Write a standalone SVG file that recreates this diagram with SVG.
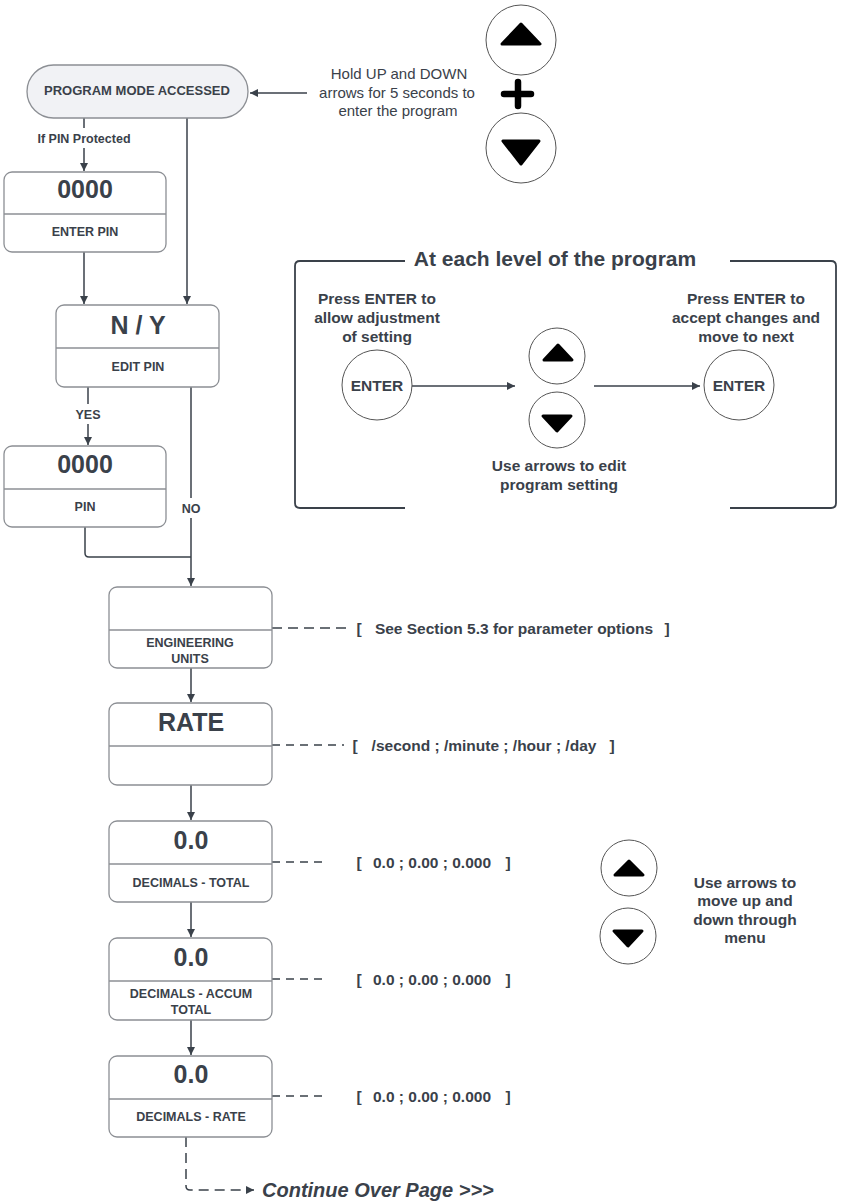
<svg xmlns="http://www.w3.org/2000/svg" width="841" height="1203" viewBox="0 0 841 1203">
<defs>
<style>
text{font-family:"Liberation Sans",Arial,sans-serif;fill:#3a414a;text-anchor:middle;}
.b{font-weight:bold;}
.big{font-weight:bold;font-size:25px;}
.lbl{font-weight:bold;font-size:12.5px;}
.node{fill:#fff;stroke:#8c8f94;stroke-width:1.3;}
.div{stroke:#8c8f94;stroke-width:1.3;}
.con{fill:none;stroke:#3a414a;stroke-width:1.5;}
.dash{fill:none;stroke:#3a414a;stroke-width:1.5;stroke-dasharray:10 6;}
.btn{fill:#fff;stroke:#555;stroke-width:1;}
.tri{fill:#000;stroke:#000;stroke-width:3;stroke-linejoin:round;}
.note{font-weight:bold;font-size:15.5px;}
</style>
<marker id="ah" markerUnits="userSpaceOnUse" markerWidth="9" markerHeight="9" refX="8" refY="4" orient="auto">
<path d="M0,0 L8,4 L0,8 z" fill="#3a414a"/>
</marker>
</defs>
<rect width="841" height="1203" fill="#fff"/>

<g id="connectors">
<path class="con" d="M307,93 H250" marker-end="url(#ah)"/>
<path class="con" d="M84,118 V128"/>
<path class="con" d="M84,148 V171" marker-end="url(#ah)"/>
<path class="con" d="M187,118 V304" marker-end="url(#ah)"/>
<path class="con" d="M84,252 V304" marker-end="url(#ah)"/>
<path class="con" d="M88,387 V404"/>
<path class="con" d="M88,424 V445" marker-end="url(#ah)"/>
<path class="con" d="M191,387 V498"/>
<path class="con" d="M191,518 V586" marker-end="url(#ah)"/>
<path class="con" d="M85,527 V553 Q85,557 89,557 H191"/>
<path class="con" d="M191,668 V702" marker-end="url(#ah)"/>
<path class="con" d="M191,785 V820" marker-end="url(#ah)"/>
<path class="con" d="M191,902 V937" marker-end="url(#ah)"/>
<path class="con" d="M191,1020 V1055" marker-end="url(#ah)"/>
<path class="dash" d="M186,1137 V1186 Q186,1190 190,1190 H254" marker-end="url(#ah)"/>
<path class="dash" d="M272,628 H347"/>
<path class="dash" style="stroke-dasharray:8 6" d="M272,745 H344"/>
<path class="dash" style="stroke-dasharray:8 6" d="M272,862 H324"/>
<path class="dash" style="stroke-dasharray:8 6" d="M272,979 H324"/>
<path class="dash" style="stroke-dasharray:8 6" d="M272,1096 H324"/>
<path class="con" d="M412,386 H515" stroke-width="1.2" marker-end="url(#ah)"/>
<path class="con" d="M594,386 H700" stroke-width="1.2" marker-end="url(#ah)"/>
</g>

<g id="lbl-pin-protected"><text class="b" x="84" y="143" font-size="12.5">If PIN Protected</text></g>
<g id="lbl-yes"><text class="lbl" x="88" y="419">YES</text></g>
<g id="lbl-no"><text class="lbl" x="191" y="513">NO</text></g>

<g id="program-mode">
<rect x="27" y="65" width="221" height="53" rx="26.5" fill="#f1f2f5" stroke="#8c8f94" stroke-width="1.3"/>
<text class="b" x="137" y="95" font-size="13">PROGRAM MODE ACCESSED</text>
</g>

<g id="hold-text">
<text x="399" y="79" font-size="15">Hold UP and DOWN</text>
<text x="397" y="98" font-size="15">arrows for 5 seconds to</text>
<text x="398" y="116" font-size="15">enter the program</text>
</g>

<g id="top-up">
<circle class="btn" cx="521" cy="40" r="35"/>
<path class="tri" d="M521,24 L540,44 L502,44 Z"/>
</g>
<g id="plus">
<path d="M504,94 H531 M518,82 V106" stroke="#000" stroke-width="6.5" stroke-linecap="round"/>
</g>
<g id="top-down">
<circle class="btn" cx="521" cy="148" r="35"/>
<path class="tri" d="M503,141 L539,141 L521,164 Z"/>
</g>

<g id="enter-pin">
<rect class="node" x="4" y="172" width="162" height="80" rx="8"/>
<line class="div" x1="4" y1="214" x2="166" y2="214"/>
<text class="big" x="85" y="198">0000</text>
<text class="lbl" x="85" y="236">ENTER PIN</text>
</g>

<g id="edit-pin">
<rect class="node" x="56" y="305" width="163" height="82" rx="8"/>
<line class="div" x1="56" y1="348" x2="219" y2="348"/>
<text class="big" x="138" y="334">N / Y</text>
<text class="lbl" x="138" y="371">EDIT PIN</text>
</g>

<g id="pin">
<rect class="node" x="4" y="446" width="162" height="81" rx="8"/>
<line class="div" x1="4" y1="489" x2="166" y2="489"/>
<text class="big" x="85" y="473">0000</text>
<text class="lbl" x="85" y="511">PIN</text>
</g>

<g id="eng-units">
<rect class="node" x="109" y="587" width="163" height="81" rx="8"/>
<line class="div" x1="109" y1="630" x2="272" y2="630"/>
<text class="lbl" x="190" y="647">ENGINEERING</text>
<text class="lbl" x="190" y="663">UNITS</text>
</g>

<g id="rate">
<rect class="node" x="109" y="703" width="163" height="82" rx="8"/>
<line class="div" x1="109" y1="746" x2="272" y2="746"/>
<text class="big" x="191" y="731">RATE</text>
</g>

<g id="dec-total">
<rect class="node" x="109" y="821" width="163" height="81" rx="8"/>
<line class="div" x1="109" y1="864" x2="272" y2="864"/>
<text class="big" x="191" y="849">0.0</text>
<text class="lbl" x="191" y="887">DECIMALS - TOTAL</text>
</g>

<g id="dec-accum">
<rect class="node" x="109" y="938" width="163" height="82" rx="8"/>
<line class="div" x1="109" y1="981" x2="272" y2="981"/>
<text class="big" x="191" y="966">0.0</text>
<text class="lbl" x="191" y="998">DECIMALS - ACCUM</text>
<text class="lbl" x="191" y="1014">TOTAL</text>
</g>

<g id="dec-rate">
<rect class="node" x="109" y="1056" width="163" height="81" rx="8"/>
<line class="div" x1="109" y1="1099" x2="272" y2="1099"/>
<text class="big" x="191" y="1083">0.0</text>
<text class="lbl" x="191" y="1121">DECIMALS - RATE</text>
</g>

<g id="note-eng"><text class="note" y="634"><tspan x="359">[</tspan><tspan x="514">See Section 5.3 for parameter options</tspan><tspan x="667">]</tspan></text></g>
<g id="note-rate"><text class="note" y="751"><tspan x="355">[</tspan><tspan x="484">/second ; /minute ; /hour ; /day</tspan><tspan x="612">]</tspan></text></g>
<g id="note-dt"><text class="note" y="868"><tspan x="359">[</tspan><tspan x="432">0.0 ; 0.00 ; 0.000</tspan><tspan x="508">]</tspan></text></g>
<g id="note-da"><text class="note" y="985"><tspan x="359">[</tspan><tspan x="432">0.0 ; 0.00 ; 0.000</tspan><tspan x="508">]</tspan></text></g>
<g id="note-dr"><text class="note" y="1102"><tspan x="359">[</tspan><tspan x="432">0.0 ; 0.00 ; 0.000</tspan><tspan x="508">]</tspan></text></g>

<g id="continue"><text x="262" y="1197" font-size="20" font-weight="bold" font-style="italic" style="text-anchor:start">Continue Over Page &gt;&gt;&gt;</text></g>

<g id="level-box">
<path d="M405,261 H300 Q295,261 295,266 V503 Q295,508 300,508 H405" fill="none" stroke="#3a414a" stroke-width="1.8"/>
<path d="M730,261 H831 Q836,261 836,266 V503 Q836,508 831,508 H730" fill="none" stroke="#3a414a" stroke-width="1.8"/>
<text class="b" x="555" y="266" font-size="21">At each level of the program</text>
</g>

<g id="press-enter-1">
<text class="note" x="377" y="304">Press ENTER to</text>
<text class="note" x="377" y="323">allow adjustment</text>
<text class="note" x="377" y="342">of setting</text>
</g>
<g id="enter-left">
<circle class="btn" cx="377" cy="385" r="35"/>
<text class="b" x="377" y="391" font-size="15.5">ENTER</text>
</g>
<g id="mid-up">
<circle class="btn" cx="557" cy="356" r="28"/>
<path class="tri" d="M558,345 L572,360 L544,360 Z"/>
</g>
<g id="mid-down">
<circle class="btn" cx="557" cy="420" r="28"/>
<path class="tri" d="M543,416 L571,416 L557,431 Z"/>
</g>
<g id="use-arrows-edit">
<text class="note" x="559" y="471">Use arrows to edit</text>
<text class="note" x="559" y="490">program setting</text>
</g>
<g id="enter-right">
<circle class="btn" cx="739" cy="385" r="35"/>
<text class="b" x="739" y="391" font-size="15.5">ENTER</text>
</g>
<g id="press-enter-2">
<text class="note" x="746" y="304">Press ENTER to</text>
<text class="note" x="746" y="323">accept changes and</text>
<text class="note" x="746" y="342">move to next</text>
</g>

<g id="menu-up">
<circle class="btn" cx="629" cy="868" r="28"/>
<path class="tri" d="M629,861 L643,875 L615,875 Z"/>
</g>
<g id="menu-down">
<circle class="btn" cx="628" cy="936" r="28"/>
<path class="tri" d="M614,931 L642,931 L628,946 Z"/>
</g>
<g id="menu-text">
<text class="note" x="745" y="888" font-size="15">Use arrows to</text>
<text class="note" x="745" y="906" font-size="15">move up and</text>
<text class="note" x="745" y="925" font-size="15">down through</text>
<text class="note" x="745" y="943" font-size="15">menu</text>
</g>
</svg>
